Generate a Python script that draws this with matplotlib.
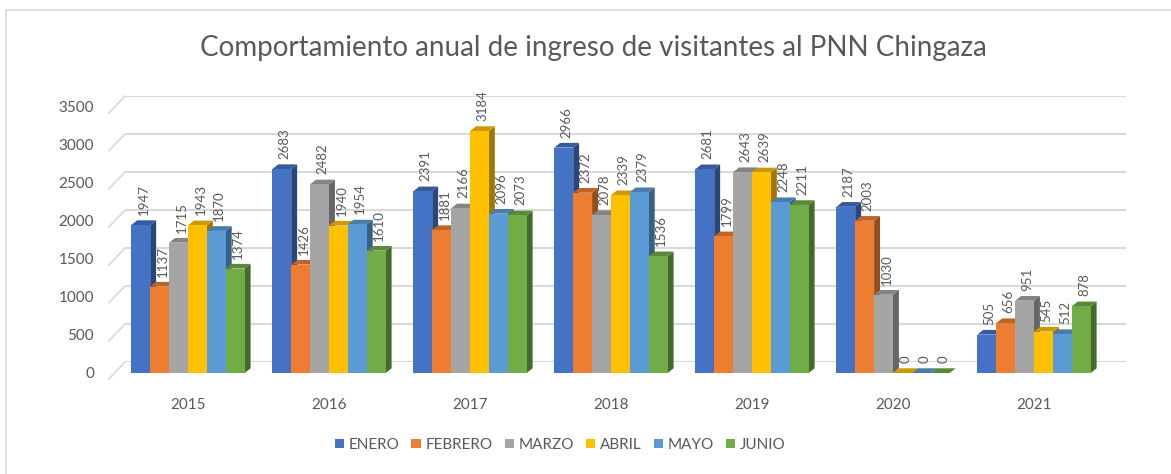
"""Comportamiento anual de ingreso de visitantes al PNN Chingaza (pseudo-3D columns)."""

import matplotlib
matplotlib.use("Agg")
import matplotlib.pyplot as plt
import matplotlib.transforms as mtransforms
from matplotlib.patches import Polygon, Rectangle, Patch
import numpy as np

plt.rcParams["font.family"] = ["Lato", "DejaVu Sans"]

years = ["2015", "2016", "2017", "2018", "2019", "2020", "2021"]
months = ["ENERO", "FEBRERO", "MARZO", "ABRIL", "MAYO", "JUNIO"]
enero = [1947, 2683, 2391, 2966, 2681, 2187, 505]
febrero = [1137, 1426, 1881, 2372, 1799, 2003, 656]
marzo = [1715, 2482, 2166, 2078, 2643, 1030, 951]
abril = [1943, 1940, 3184, 2339, 2639, 0, 545]
mayo = [1870, 1954, 2096, 2379, 2248, 0, 512]
junio = [1374, 1610, 2073, 1536, 2211, 0, 878]
series = [enero, febrero, marzo, abril, mayo, junio]
colors = ["#4472C4", "#ED7D31", "#A5A5A5", "#FFC000", "#5B9BD5", "#70AD47"]

TEXT = "#595959"
GRID = "#D9D9D9"


def shade(color, f):
    rgb = np.array(matplotlib.colors.to_rgb(color))
    return tuple(rgb * f)


W, H = 1171, 474
fig = plt.figure(figsize=(W / 100, H / 100), dpi=100)

# back wall with gridlines
ax_back = fig.add_axes([125 / W, 112 / H, 1001 / W, 266 / H])
ax_back.set_xlim(0, 1)
ax_back.set_ylim(0, 3500)
ax_back.set_yticks(np.arange(0, 3501, 500))
ax_back.set_xticks([])
ax_back.tick_params(left=False, labelleft=False)
ax_back.grid(axis="y", color=GRID, lw=1.5)
for sp in ax_back.spines.values():
    sp.set_visible(False)
ax_back.patch.set_alpha(0)
side_tr = mtransforms.blended_transform_factory(ax_back.transAxes, ax_back.transData)
for v in np.arange(0, 3501, 500):
    ax_back.plot([-16 / 1001, 0], [v - 220, v], color=GRID, lw=1.2,
                 transform=side_tr, clip_on=False)

# front plane with the bars
ax = fig.add_axes([117.5 / W, 101 / H, 987 / W, 266 / H])
ax.patch.set_alpha(0)
ax.set_xlim(-0.5, len(years) - 0.5)
ax.set_ylim(0, 3500)
ax.set_yticks(np.arange(0, 3501, 500))
ax.set_xticks(np.arange(len(years)))
ax.set_xticklabels(years)
ax.tick_params(length=0, labelsize=11, labelcolor=TEXT)
ax.tick_params(axis="y", pad=17)
ax.tick_params(axis="x", pad=18)
for sp in ax.spines.values():
    sp.set_visible(False)

w = 0.134
dx = 0.042
dy = 62
z = 3
for ci in range(len(years)):
    for si, vals in enumerate(series):
        v = vals[ci]
        x = ci + (si - 2.5) * w
        x0, x1 = x - w / 2, x + w / 2
        c = colors[si]
        side = Polygon([(x1, 0), (x1 + dx, dy), (x1 + dx, v + dy), (x1, v)],
                       closed=True, fc=shade(c, 0.62), ec="none", zorder=z)
        top = Polygon([(x0, v), (x0 + dx, v + dy), (x1 + dx, v + dy), (x1, v)],
                      closed=True, fc=shade(c, 0.8), ec="none", zorder=z + 1)
        ax.add_patch(side)
        ax.add_patch(top)
        ax.bar(x, v, width=w, color=c, zorder=z + 2, linewidth=0)
        z += 3
        ax.text(x + dx / 2, v + dy + 70, str(v), rotation=90, ha="center",
                va="bottom", fontsize=9.5, color=TEXT, zorder=200)

fig.text(593 / W, 1 - 48 / H,
         "Comportamiento anual de ingreso de visitantes al PNN Chingaza",
         ha="center", va="center", fontsize=20, color=TEXT)

handles = [Patch(fc=c, ec="none") for c in colors]
fig.legend(handles, months, loc="center", bbox_to_anchor=(560 / W, 1 - 445 / H),
           ncol=6, frameon=False, fontsize=11, labelcolor=TEXT,
           handlelength=0.6, handleheight=0.6, handletextpad=0.3,
           columnspacing=0.8)

fig.add_artist(Rectangle((6 / W, -0.1), 1.2, 1 - 10 / H + 0.1,
                         transform=fig.transFigure, fill=False,
                         ec=GRID, lw=1.2))

fig.savefig("out.png", dpi=100)
